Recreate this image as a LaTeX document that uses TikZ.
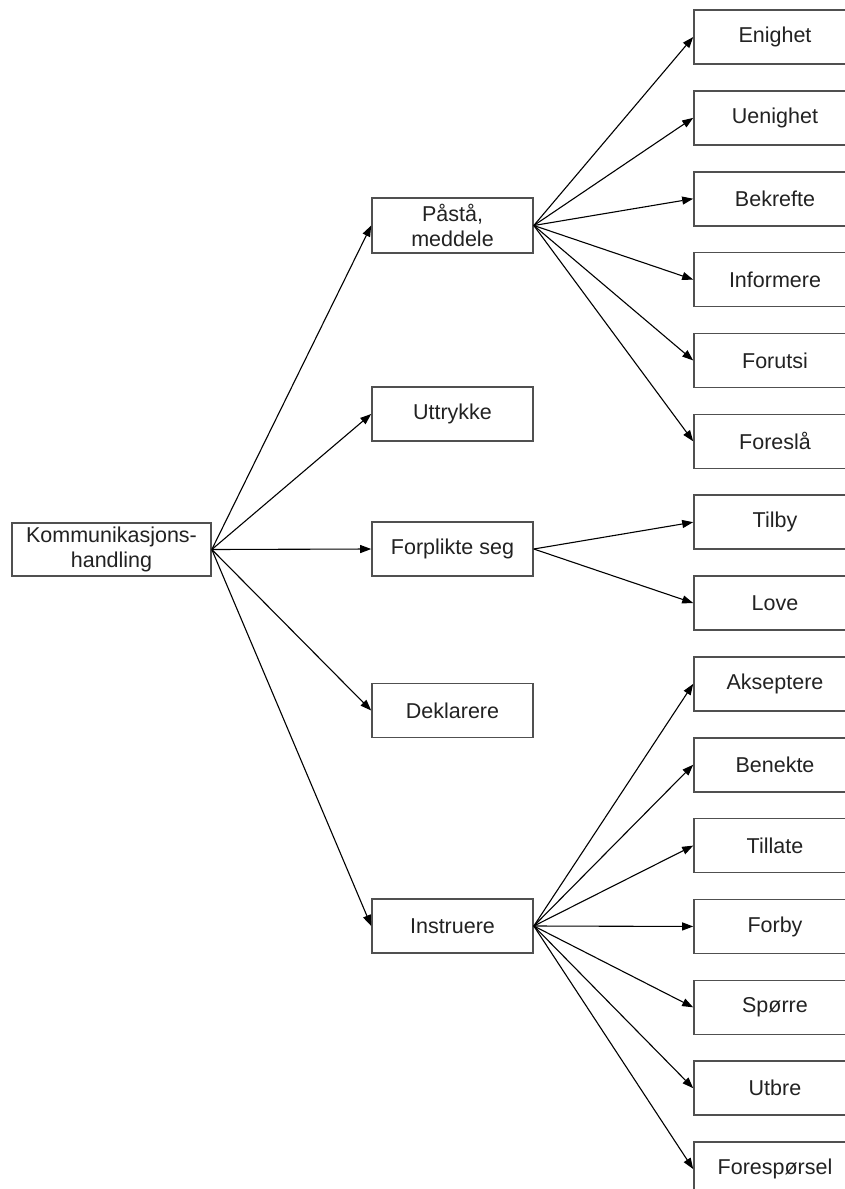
\documentclass[tikz,border=0pt]{standalone}
\usepackage{fontspec}
\setmainfont{Liberation Sans}
\usetikzlibrary{arrows.meta}
\definecolor{boxgray}{RGB}{80,80,80}
\definecolor{textgray}{RGB}{34,34,34}
\begin{document}
\begin{tikzpicture}[x=1pt,y=-1pt,
  box/.style={draw=boxgray, line width=1.6pt, fill=white, rectangle,
    minimum width=161pt, minimum height=54pt, inner sep=0pt, align=center,
    font=\fontsize{21.5}{25}\selectfont, text=textgray},
  leaf/.style={box, minimum width=162pt},
  link/.style={draw=black, line width=1.1pt, -{Triangle[length=11pt,width=8pt]}},
]
\useasboundingbox (0,0) rectangle (845,1189);
\clip (0,0) rectangle (845,1189);

% root
\node[box, minimum width=199pt, minimum height=53pt] (root) at (111.5,549.5) {Kommunikasjons-\\handling};

% second level
\node[box, minimum height=55pt] (pasta) at (452.5,225.5) {Påstå,\\meddele};
\node[box] (uttrykke)  at (452.5,414)   {Uttrykke};
\node[box] (forplikte) at (452.5,549)   {Forplikte seg};
\node[box] (deklarere) at (452.5,710.5) {Deklarere};
\node[box] (instruere) at (452.5,926)   {Instruere};

% third level
\foreach \name/\lbl [count=\k from 0] in {
    enighet/Enighet, uenighet/Uenighet, bekrefte/Bekrefte, informere/Informere,
    forutsi/Forutsi, foresla/Foreslå, tilby/Tilby, love/Love,
    akseptere/Akseptere, benekte/Benekte, tillate/Tillate, forby/Forby,
    sporre/Spørre, utbre/Utbre, foresporsel/Forespørsel}
  \node[leaf] (\name) at (775,{37+80.86*\k}) {\lbl};

% connectors
\foreach \c in {pasta,uttrykke,forplikte,deklarere,instruere}
  \draw[link] (root.east) -- (\c.west);
\foreach \c in {enighet,uenighet,bekrefte,informere,forutsi,foresla}
  \draw[link] (pasta.east) -- (\c.west);
\foreach \c in {tilby,love}
  \draw[link] (forplikte.east) -- (\c.west);
\foreach \c in {akseptere,benekte,tillate,forby,sporre,utbre,foresporsel}
  \draw[link] (instruere.east) -- (\c.west);
\end{tikzpicture}
\end{document}
